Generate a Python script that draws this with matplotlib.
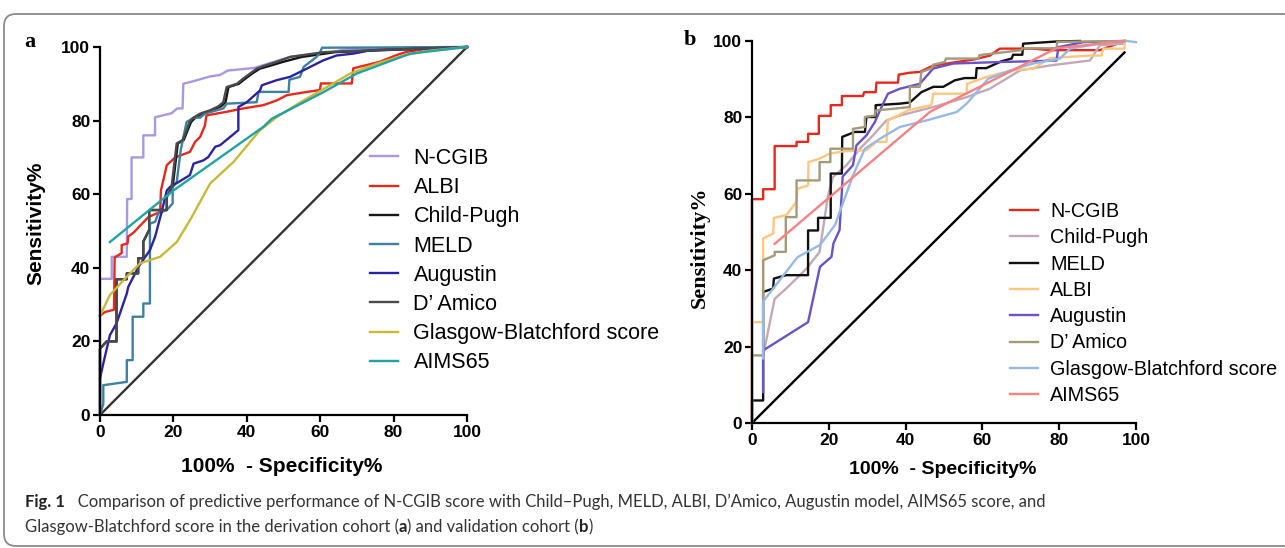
import matplotlib.pyplot as plt
from matplotlib.patches import FancyBboxPatch

# ---- panel a (derivation cohort) ----
a_labels = ["N-CGIB", "ALBI", "Child-Pugh", "MELD", "Augustin", "D\u2019 Amico",
            "Glasgow-Blatchford score", "AIMS65"]
a_colors = ["#a898e6", "#e8281c", "#151515", "#3d80a2", "#2c22a0", "#4a4a4a",
            "#c9b935", "#1fa3a3"]

a_ncgib_x = [0, 0, 3.2, 3.2, 7.3, 7.4, 8.6, 8.6, 11.8, 11.8, 15.0, 15.0, 19.5, 21.0,
             22.5, 22.7, 25.4, 30.0, 32.7, 34.8, 42.0, 48.5, 52.2, 61.0, 68.0, 100]
a_ncgib_y = [0, 37.0, 37.0, 43.0, 43.0, 58.7, 58.7, 70.0, 70.0, 76.0, 76.0, 80.9, 82.0,
             83.3, 83.3, 90.0, 90.7, 92.0, 92.4, 93.6, 94.3, 96.3, 97.4, 98.3, 99.5, 100]

a_albi_x = [0, 1.4, 3.8, 4.0, 5.9, 5.9, 7.5, 7.7, 9.2, 10.5, 13.2, 16.4, 16.6, 18.2,
            20.5, 24.5, 25.9, 27.3, 28.6, 29.0, 34.5, 39.0, 44.5, 48.2, 50.9, 56.4,
            59.9, 60.2, 68.6, 69.0, 76.3, 80.8, 83.6, 89.9, 100]
a_albi_y = [27.0, 28.0, 28.6, 42.8, 44.0, 46.2, 46.6, 48.5, 49.6, 51.0, 53.8, 55.2, 61.0,
            67.9, 70.0, 71.5, 74.2, 75.6, 78.7, 81.4, 82.4, 83.3, 84.2, 85.5, 86.9, 87.8,
            88.3, 90.1, 90.1, 94.2, 96.0, 97.8, 98.7, 99.6, 100]

a_cp_x = [0, 0, 1.8, 4.5, 4.5, 7.3, 7.3, 10.4, 10.4, 11.8, 11.8, 13.4, 13.4, 18.2, 18.2,
          19.8, 21.2, 22.8, 23.9, 24.8, 26.0, 27.8, 30.5, 33.0, 34.2, 35.0, 37.8, 39.6,
          41.5, 43.5, 46.0, 50.0, 55.0, 64.0, 76.0, 100]
a_cp_y = [0, 18.0, 20.0, 20.0, 36.9, 36.9, 38.5, 38.5, 42.6, 42.6, 47.1, 50.3, 55.7, 55.7,
          59.3, 62.0, 73.8, 74.7, 77.4, 79.6, 80.8, 81.9, 82.8, 83.9, 85.0, 89.1, 90.0,
          91.4, 92.8, 94.1, 94.8, 96.0, 97.3, 98.6, 99.1, 100]

a_meld_x = [0, 0.9, 0.9, 7.3, 7.3, 8.9, 8.9, 11.8, 11.8, 13.6, 13.6, 15.0, 15.9, 18.2,
            19.8, 19.8, 20.9, 22.0, 23.6, 25.5, 27.3, 28.6, 33.6, 34.5, 42.7, 43.2,
            51.4, 51.6, 54.5, 55.5, 57.3, 59.0, 60.0, 60.5, 100]
a_meld_y = [0, 3.0, 8.1, 9.0, 14.9, 14.9, 26.7, 26.7, 30.3, 30.3, 52.0, 52.5, 54.8, 55.7,
            57.5, 62.0, 63.3, 72.0, 79.6, 80.8, 80.8, 81.9, 83.3, 84.6, 85.0, 87.8, 87.8,
            91.1, 91.9, 94.6, 96.0, 97.3, 98.6, 99.8, 100]

a_aug_x = [0, 0.9, 2.7, 4.5, 7.3, 7.7, 10.5, 13.6, 15.0, 16.8, 18.2, 19.1, 21.4, 24.5,
           25.5, 28.2, 29.5, 31.4, 32.7, 37.7, 37.7, 40.0, 43.6, 44.1, 48.2, 51.8,
           55.5, 60.9, 64.5, 69.0, 73.6, 100]
a_aug_y = [10.0, 14.0, 21.7, 24.9, 33.0, 34.8, 40.3, 44.8, 48.4, 55.2, 61.0, 62.0, 63.3,
           65.2, 68.3, 69.2, 70.1, 72.9, 73.3, 77.4, 83.7, 85.0, 88.2, 89.6, 91.0, 91.9,
           93.7, 96.4, 97.7, 98.2, 99.1, 100]

a_dam_x = [0, 0, 1.8, 4.5, 4.5, 7.3, 7.3, 10.4, 10.4, 11.8, 11.8, 13.4, 13.4, 18.2, 18.2,
           19.5, 20.9, 22.5, 23.6, 24.4, 25.5, 27.3, 30.0, 32.3, 33.6, 34.5, 37.3, 39.0,
           40.9, 42.7, 44.5, 48.2, 51.8, 61.0, 73.6, 100]
a_dam_y = [0, 18.0, 20.0, 20.0, 36.9, 36.9, 38.5, 38.5, 42.6, 42.6, 47.1, 50.3, 55.7, 55.7,
           59.3, 62.0, 73.8, 74.7, 77.4, 79.6, 80.8, 81.9, 82.8, 83.9, 85.0, 89.1, 90.0,
           91.4, 92.8, 94.1, 94.8, 96.0, 97.3, 98.6, 99.1, 100]

a_gbs_x = [0, 2.7, 7.3, 10.9, 16.4, 20.9, 24.5, 30.0, 36.4, 43.6, 48.2, 55.5, 62.7, 68.2,
           75.5, 82.7, 89.0, 100]
a_gbs_y = [27.0, 32.6, 37.6, 41.2, 43.0, 47.0, 52.9, 62.9, 68.8, 77.4, 81.0, 85.5, 89.6,
           92.8, 95.5, 97.7, 98.9, 100]

a_aims_x = [2.7, 20.0, 44.5, 46.8, 61.0, 70.0, 84.5, 100]
a_aims_y = [47.0, 61.0, 78.3, 80.5, 87.8, 92.8, 98.2, 100]

# ---- panel b (validation cohort) ----
b_labels = ["N-CGIB", "Child-Pugh", "MELD", "ALBI", "Augustin", "D\u2019 Amico",
            "Glasgow-Blatchford score", "AIMS65"]
b_colors = ["#e8281c", "#c2a9b8", "#101010", "#ffc67e", "#6a52c8", "#a39a7a",
            "#97b9e8", "#f88282"]

b_ncgib_x = [0, 0, 2.9, 2.9, 5.9, 5.9, 11.6, 11.6, 14.6, 14.6, 17.4, 17.4, 20.5, 20.5,
             23.4, 23.4, 28.9, 29.2, 32.2, 32.4, 38.0, 38.2, 41.1, 43.7, 47.0, 52.0,
             58.0, 62.0, 64.5, 73.2, 77.6, 90.6, 97.0]
b_ncgib_y = [0, 58.6, 58.6, 61.2, 61.2, 72.5, 72.5, 73.6, 73.6, 75.7, 75.7, 80.4, 80.4,
             83.2, 83.2, 85.6, 85.6, 86.6, 86.6, 89.1, 89.1, 91.2, 91.7, 91.9, 93.5,
             94.3, 95.2, 96.2, 98.0, 98.0, 97.6, 97.6, 100]

b_cp_x = [2.9, 5.9, 8.9, 14.2, 17.6, 19.8, 21.1, 24.6, 28.1, 31.5, 35.0, 38.5, 47.2,
          55.9, 61.9, 69.8, 77.6, 88.0, 90.6, 97.0]
b_cp_y = [17.7, 32.5, 35.2, 40.4, 44.8, 59.6, 64.4, 67.5, 71.8, 75.3, 79.2, 80.5, 82.7,
          85.3, 87.5, 92.3, 93.6, 94.9, 98.9, 99.3]

b_meld_x = [0, 0, 2.9, 2.9, 5.5, 5.7, 8.9, 14.6, 14.6, 17.2, 17.2, 20.5, 20.5, 23.4,
            23.5, 26.8, 29.4, 29.8, 32.2, 32.2, 38.5, 41.1, 44.1, 47.2, 49.8, 52.8,
            55.4, 58.3, 58.5, 61.0, 65.0, 67.6, 68.0, 70.4, 70.6, 79.8, 85.4]
b_meld_y = [0, 5.9, 5.9, 34.3, 35.2, 37.8, 38.7, 38.7, 50.4, 50.4, 53.7, 53.7, 65.3,
            65.3, 74.9, 76.2, 76.2, 80.1, 80.1, 83.2, 83.6, 83.9, 86.6, 88.0, 88.0,
            89.7, 90.3, 90.3, 92.9, 92.9, 94.7, 95.4, 96.4, 96.4, 99.3, 99.9, 100]

b_albi_x = [0, 0, 2.9, 2.9, 5.5, 5.7, 8.9, 11.6, 11.8, 14.6, 14.7, 17.6, 20.2, 23.7,
            29.8, 32.4, 35.0, 35.4, 38.0, 40.7, 46.7, 47.2, 55.9, 56.0, 61.1, 67.6,
            73.2, 77.6, 81.9, 88.0, 91.0, 91.5, 97.0, 97.0]
b_albi_y = [0, 26.4, 26.4, 48.3, 49.6, 53.7, 54.4, 57.9, 61.3, 62.2, 68.3, 69.2, 70.5,
            71.1, 71.4, 73.6, 73.6, 79.2, 80.5, 81.9, 83.2, 86.2, 86.2, 88.8, 90.6,
            92.3, 92.8, 95.5, 95.8, 96.2, 96.2, 98.0, 98.0, 100]

b_aug_x = [2.9, 2.9, 14.6, 15.1, 17.7, 20.7, 21.2, 22.8, 23.4, 23.6, 26.3, 27.2, 29.8,
           32.0, 33.3, 35.4, 38.5, 43.7, 47.2, 52.4, 64.6, 73.2, 79.3, 79.8, 86.3, 97.0]
b_aug_y = [8.1, 19.0, 26.4, 28.7, 40.9, 43.5, 47.0, 50.5, 60.6, 64.5, 67.5, 72.7, 75.3,
           78.8, 81.8, 86.2, 87.5, 88.8, 92.8, 94.1, 94.5, 94.7, 94.9, 98.4, 99.7, 100]

b_dam_x = [0, 0, 2.9, 2.9, 5.9, 5.9, 8.8, 8.8, 11.6, 11.6, 17.6, 17.6, 20.4, 20.4, 26.3,
           26.3, 29.4, 29.4, 32.0, 32.2, 41.1, 41.1, 43.7, 44.1, 46.7, 47.2, 50.2, 50.5,
           59.0, 59.2, 70.2, 70.4, 79.3, 79.5, 97.0]
b_dam_y = [0, 17.7, 17.7, 42.6, 43.9, 44.8, 44.8, 53.9, 53.9, 63.5, 63.5, 68.3, 68.3,
           71.8, 71.8, 77.0, 77.5, 80.1, 80.5, 81.8, 82.7, 88.0, 88.0, 91.9, 92.8, 93.8,
           94.5, 95.4, 95.4, 96.3, 97.6, 98.1, 98.1, 99.8, 100]

b_gbs_x = [2.9, 2.9, 11.6, 12.0, 17.7, 21.6, 26.3, 29.4, 33.3, 38.5, 45.4, 53.3, 55.9,
           61.5, 67.2, 73.2, 80.2, 82.8, 90.6, 97.6, 100]
b_gbs_y = [16.9, 31.8, 43.1, 43.5, 46.6, 51.8, 64.8, 71.8, 74.4, 77.5, 79.2, 81.4, 83.6,
           90.1, 92.3, 94.1, 95.4, 98.0, 99.3, 100, 99.7]

b_aims_x = [5.9, 46.4, 79.3, 97.0]
b_aims_y = [46.9, 81.5, 98.1, 100]

a_curves = [(a_ncgib_x, a_ncgib_y), (a_albi_x, a_albi_y), (a_cp_x, a_cp_y),
            (a_meld_x, a_meld_y), (a_aug_x, a_aug_y), (a_dam_x, a_dam_y),
            (a_gbs_x, a_gbs_y), (a_aims_x, a_aims_y)]
b_curves = [(b_ncgib_x, b_ncgib_y), (b_cp_x, b_cp_y), (b_meld_x, b_meld_y),
            (b_albi_x, b_albi_y), (b_aug_x, b_aug_y), (b_dam_x, b_dam_y),
            (b_gbs_x, b_gbs_y), (b_aims_x, b_aims_y)]

ticks = [0, 20, 40, 60, 80, 100]

W, H = 1285, 548
fig = plt.figure(figsize=(W / 100, H / 100), dpi=100)

# rounded frame around the whole figure
frame = FancyBboxPatch((0.04, 0.02), 13.2, 5.32, boxstyle="round,pad=0,rounding_size=0.12",
                       transform=fig.dpi_scale_trans, fill=False, edgecolor="#8a8a8a",
                       linewidth=1.3)
fig.patches.append(frame)


def px_axes(left, top, right, bottom):
    return fig.add_axes([left / W, 1 - bottom / H, (right - left) / W, (bottom - top) / H])


def style_axes(ax):
    ax.set_xlim(0, 100)
    ax.set_ylim(0, 100)
    ax.set_xticks(ticks)
    ax.set_yticks(ticks)
    for s in ["top", "right"]:
        ax.spines[s].set_visible(False)
    for s in ["left", "bottom"]:
        ax.spines[s].set_linewidth(1.6)
    ax.tick_params(length=5, width=1.6, pad=2, labelsize=12.5)
    for lab in ax.get_xticklabels() + ax.get_yticklabels():
        lab.set_fontweight("bold")
        lab.set_fontfamily("Liberation Sans")


# panel a
ax1 = px_axes(100, 47, 467, 415)
ax1.plot([0, 100], [0, 100], color="#333333", lw=1.7, clip_on=False)
for (xs, ys), lab, col in zip(a_curves, a_labels, a_colors):
    ax1.plot(xs, ys, color=col, lw=1.7, label=lab, clip_on=False)
style_axes(ax1)
ax1.set_xlabel("100%  - Specificity%", fontsize=15, fontweight="bold", family="Liberation Sans")
ax1.xaxis.set_label_coords(0.496, -0.115)
ax1.set_ylabel("Sensitivity%", fontsize=15, fontweight="bold", family="Liberation Sans")
ax1.yaxis.set_label_coords(-0.15, 0.52)
ax1.legend(loc="upper left", bbox_to_anchor=(370 / W, 1 - 148 / H),
           bbox_transform=fig.transFigure, frameon=False, borderpad=0, borderaxespad=0,
           handlelength=1.3, handletextpad=0.72, labelspacing=0.38,
           prop={"family": "Liberation Sans", "size": 15.5})

# panel b
ax2 = px_axes(752, 41, 1136, 423)
ax2.plot([0, 97], [0, 97], color="black", lw=1.7, clip_on=False)
for (xs, ys), lab, col in zip(b_curves, b_labels, b_colors):
    ax2.plot(xs, ys, color=col, lw=1.7, label=lab, clip_on=False)
style_axes(ax2)
ax2.set_xlabel("100%  - Specificity%", fontsize=14, fontweight="bold", family="Liberation Sans")
ax2.xaxis.set_label_coords(0.497, -0.10)
ax2.set_ylabel("Sensitivity%", fontsize=16, fontweight="bold", family="Liberation Serif")
ax2.yaxis.set_label_coords(-0.11, 0.46)
ax2.legend(loc="upper left", bbox_to_anchor=(1010 / W, 1 - 202 / H),
           bbox_transform=fig.transFigure, frameon=False, borderpad=0, borderaxespad=0,
           handlelength=1.4, handletextpad=0.65, labelspacing=0.37,
           prop={"family": "Liberation Sans", "size": 14.2})

# panel letters
fig.text(24 / W, 1 - 42 / H, "a", fontsize=16, fontweight="bold", family="Liberation Serif",
         va="center")
fig.text(684 / W, 1 - 40 / H, "b", fontsize=16, fontweight="bold", family="Liberation Serif",
         va="center")

# caption, written as runs so bold parts can sit inline
renderer = fig.canvas.get_renderer()


def caption_line(y, runs, x=25):
    for txt, bold in runs:
        t = fig.text(x / W, 1 - y / H, txt, fontsize=12, family="Lato", va="center",
                     fontweight="bold" if bold else "normal",
                     color="#222222" if bold else "#333333")
        x = t.get_window_extent(renderer).x1


caption_line(502, [("Fig. 1", True),
                   ("   Comparison of predictive performance of N-CGIB score with Child\u2013Pugh, "
                    "MELD, ALBI, D\u2019Amico, Augustin model, AIMS65 score, and", False)])
caption_line(527, [("Glasgow-Blatchford score in the derivation cohort (", False), ("a", True),
                   (") and validation cohort (", False), ("b", True), (")", False)])

fig.savefig("out.png", dpi=100)
